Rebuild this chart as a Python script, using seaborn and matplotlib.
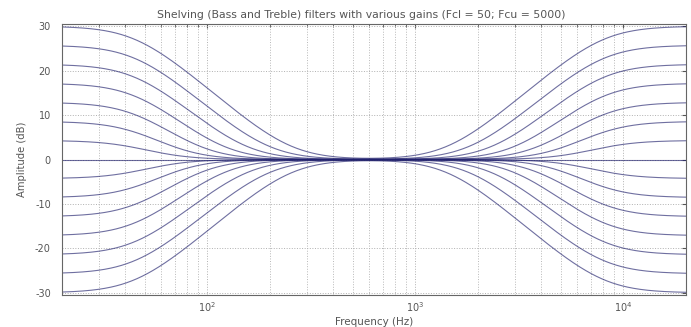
import numpy as np
import pandas as pd
import matplotlib
matplotlib.use("Agg")
import matplotlib.pyplot as plt
from matplotlib.ticker import LogLocator, NullFormatter, FixedLocator
import seaborn as sns

# Shelf gains in dB (one curve per gain, bass and treble boosted/cut together)
gains_db = [-30.0, -25.71, -21.43, -17.14, -12.86, -8.57, -4.29, 0.0,
            4.29, 8.57, 12.86, 17.14, 21.43, 25.71, 30.0]
# Nominal corner frequencies shown in the title
fc_low = 50
fc_high = 5000
# Corner frequencies of the second-order shelving sections as evaluated
f_corner_low = 45.0
f_corner_high = 8000.0

y_ticks = [-30, -20, -10, 0, 10, 20, 30]
x_ticks = [100, 1000, 10000]


def bass_boost(f, v0, fc):
    s = 1j * f / fc
    return (s**2 + np.sqrt(2 * v0) * s + v0) / (s**2 + np.sqrt(2) * s + 1)


def treble_boost(f, v0, fc):
    s = 1j * f / fc
    return (v0 * s**2 + np.sqrt(2 * v0) * s + 1) / (s**2 + np.sqrt(2) * s + 1)


def shelving_db(f, g):
    # cut sections are the exact inverse of the matching boost sections
    v0 = 10 ** (abs(g) / 20)
    h = np.abs(bass_boost(f, v0, f_corner_low) * treble_boost(f, v0, f_corner_high))
    return np.sign(g) * 20 * np.log10(h) if g != 0 else np.zeros_like(f)


freq = np.logspace(np.log10(20), np.log10(20000), 600)
rows = []
for g in gains_db:
    rows.append(pd.DataFrame({"freq": freq, "amp": shelving_db(freq, g), "gain": g}))
df = pd.concat(rows, ignore_index=True)

sns.set_style("white")
plt.rcParams["font.family"] = ["DejaVu Sans"]

fig = plt.figure(figsize=(6.91, 3.27), dpi=100)
ax = fig.add_axes([0.0897, 1 - 295 / 327, 0.9031, 271 / 327])

sns.lineplot(data=df, x="freq", y="amp", hue="gain", units="gain", estimator=None,
             palette=["#22226e"] * len(gains_db), linewidth=0.8, alpha=0.65,
             legend=False, ax=ax)

ax.set_xscale("log")
ax.set_xlim(20, 20000)
ax.set_ylim(-30.5, 30.5)
ax.xaxis.set_major_locator(FixedLocator(x_ticks))
ax.xaxis.set_minor_locator(LogLocator(base=10, subs=np.arange(2, 10)))
ax.xaxis.set_minor_formatter(NullFormatter())
ax.set_xticklabels([r"$10^{2}$", r"$10^{3}$", r"$10^{4}$"])
ax.set_yticks(y_ticks)
ax.set_yticklabels([str(v) for v in y_ticks])

ax.grid(True, which="major", axis="both", color="#b0b0b0", linestyle=":", linewidth=0.7)
ax.grid(True, which="minor", axis="x", color="#b8b8b8", linestyle=":", linewidth=0.7)

ax.tick_params(which="both", direction="in", top=True, right=True,
               color="#555555", labelsize=7, labelcolor="#555555")
ax.tick_params(which="major", length=3)
ax.tick_params(which="minor", length=2)
ax.tick_params(axis="y", pad=8)
ax.tick_params(axis="x", pad=4)
for side in ["left", "bottom", "top", "right"]:
    ax.spines[side].set_color("#666666")
    ax.spines[side].set_linewidth(0.8)

ax.set_title(f"Shelving (Bass and Treble) filters with various gains (Fcl = {fc_low}; Fcu = {fc_high})",
             fontsize=7.8, color="#555555", pad=4, x=0.48)
ax.set_xlabel("Frequency (Hz)", fontsize=7.5, color="#555555", labelpad=2)
ax.set_ylabel("Amplitude (dB)", fontsize=7.2, color="#555555", labelpad=6)

fig.savefig("out.png", dpi=100, facecolor="white")
